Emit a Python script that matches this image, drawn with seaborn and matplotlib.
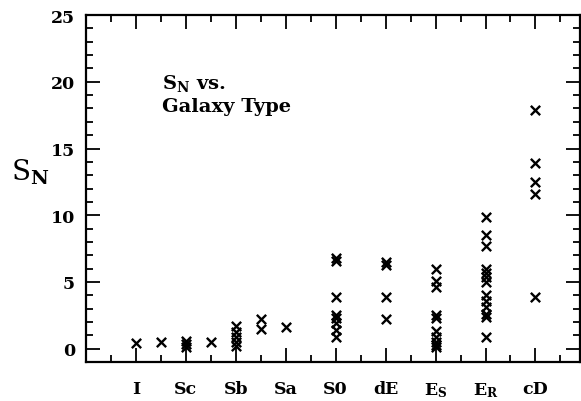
import numpy as np
import pandas as pd
import matplotlib
matplotlib.use('Agg')
import matplotlib.pyplot as plt
import seaborn as sns
from matplotlib.ticker import MultipleLocator

# galaxy types (position on the type axis) and their S_N values
type_pos = [1, 1.5, 2, 2.5, 3, 3.5, 4, 5, 6, 7, 8, 9]
sn_values = [
    [0.4],                                          # I
    [0.5],                                          # Sd
    [0.6, 0.35, 0.15],                              # Sc
    [0.5],                                          # Sbc
    [1.7, 1.25, 0.9, 0.5, 0.2],                     # Sb
    [2.25, 1.5],                                    # Sab
    [1.65],                                         # Sa
    [6.8, 6.6, 3.9, 2.5, 2.3, 1.9, 1.4, 0.9],       # S0
    [6.5, 6.3, 3.9, 2.25],                          # dE
    [6.0, 5.1, 4.6, 2.5, 2.3, 1.3, 0.9, 0.5, 0.3, 0.1],          # E_S
    [9.9, 8.5, 7.7, 6.0, 5.7, 5.4, 5.0, 4.0, 3.6, 3.1, 2.6, 2.4, 0.9],  # E_R
    [17.9, 13.9, 12.5, 11.6, 3.9],                  # cD
]
tick_pos = [1, 2, 3, 4, 5, 6, 7, 8, 9]
tick_labels = ['I', 'Sc', 'Sb', 'Sa', 'S0', 'dE', 'E$_\\mathbf{S}$', 'E$_\\mathbf{R}$', 'cD']
y_ticks = [0, 5, 10, 15, 20, 25]

rows = []
for p, vals in zip(type_pos, sn_values):
    for v in vals:
        rows.append({'type': p, 'SN': v})
df = pd.DataFrame(rows)

sns.set_style('ticks')
plt.rcParams['font.family'] = ['DejaVu Serif']
plt.rcParams['mathtext.fontset'] = 'dejavuserif'
plt.rcParams['text.color'] = 'black'
plt.rcParams['axes.labelcolor'] = 'black'

fig = plt.figure(figsize=(5.81, 4.02), dpi=100)
ax = fig.add_axes([0.148, 0.097, 0.851, 0.863])

sns.scatterplot(data=df, x='type', y='SN', marker='x', color='black',
                s=45, linewidth=1.7, ax=ax, legend=False)

ax.set_xlim(0, 9.9)
ax.set_ylim(-1, 25)
ax.set_xticks(tick_pos)
ax.set_xticklabels(tick_labels, fontweight='bold')
ax.xaxis.set_minor_locator(MultipleLocator(0.5))
ax.set_yticks(y_ticks)
ax.set_yticklabels([str(t) for t in y_ticks], fontweight='bold')
ax.yaxis.set_minor_locator(MultipleLocator(1))

ax.tick_params(which='both', direction='in', top=True, right=True,
               width=1.3, colors='black', labelsize=12.5)
ax.tick_params(which='major', length=10)
ax.tick_params(which='minor', length=5)
ax.tick_params(axis='x', which='major', pad=13)
ax.tick_params(axis='y', which='major', pad=8)
for sp in ax.spines.values():
    sp.set_linewidth(1.6)
    sp.set_color('black')

ax.set_xlabel('')
ax.set_ylabel('S$_\\mathbf{N}$', fontsize=20, rotation=0)
ax.yaxis.set_label_coords(-0.113, 0.507)

ax.text(1.52, 20.7, 'S$_\\mathbf{N}$ vs.\nGalaxy Type', fontsize=14,
        fontweight='bold', va='top', ha='left', linespacing=1.25)

fig.savefig('out.png', dpi=100)
